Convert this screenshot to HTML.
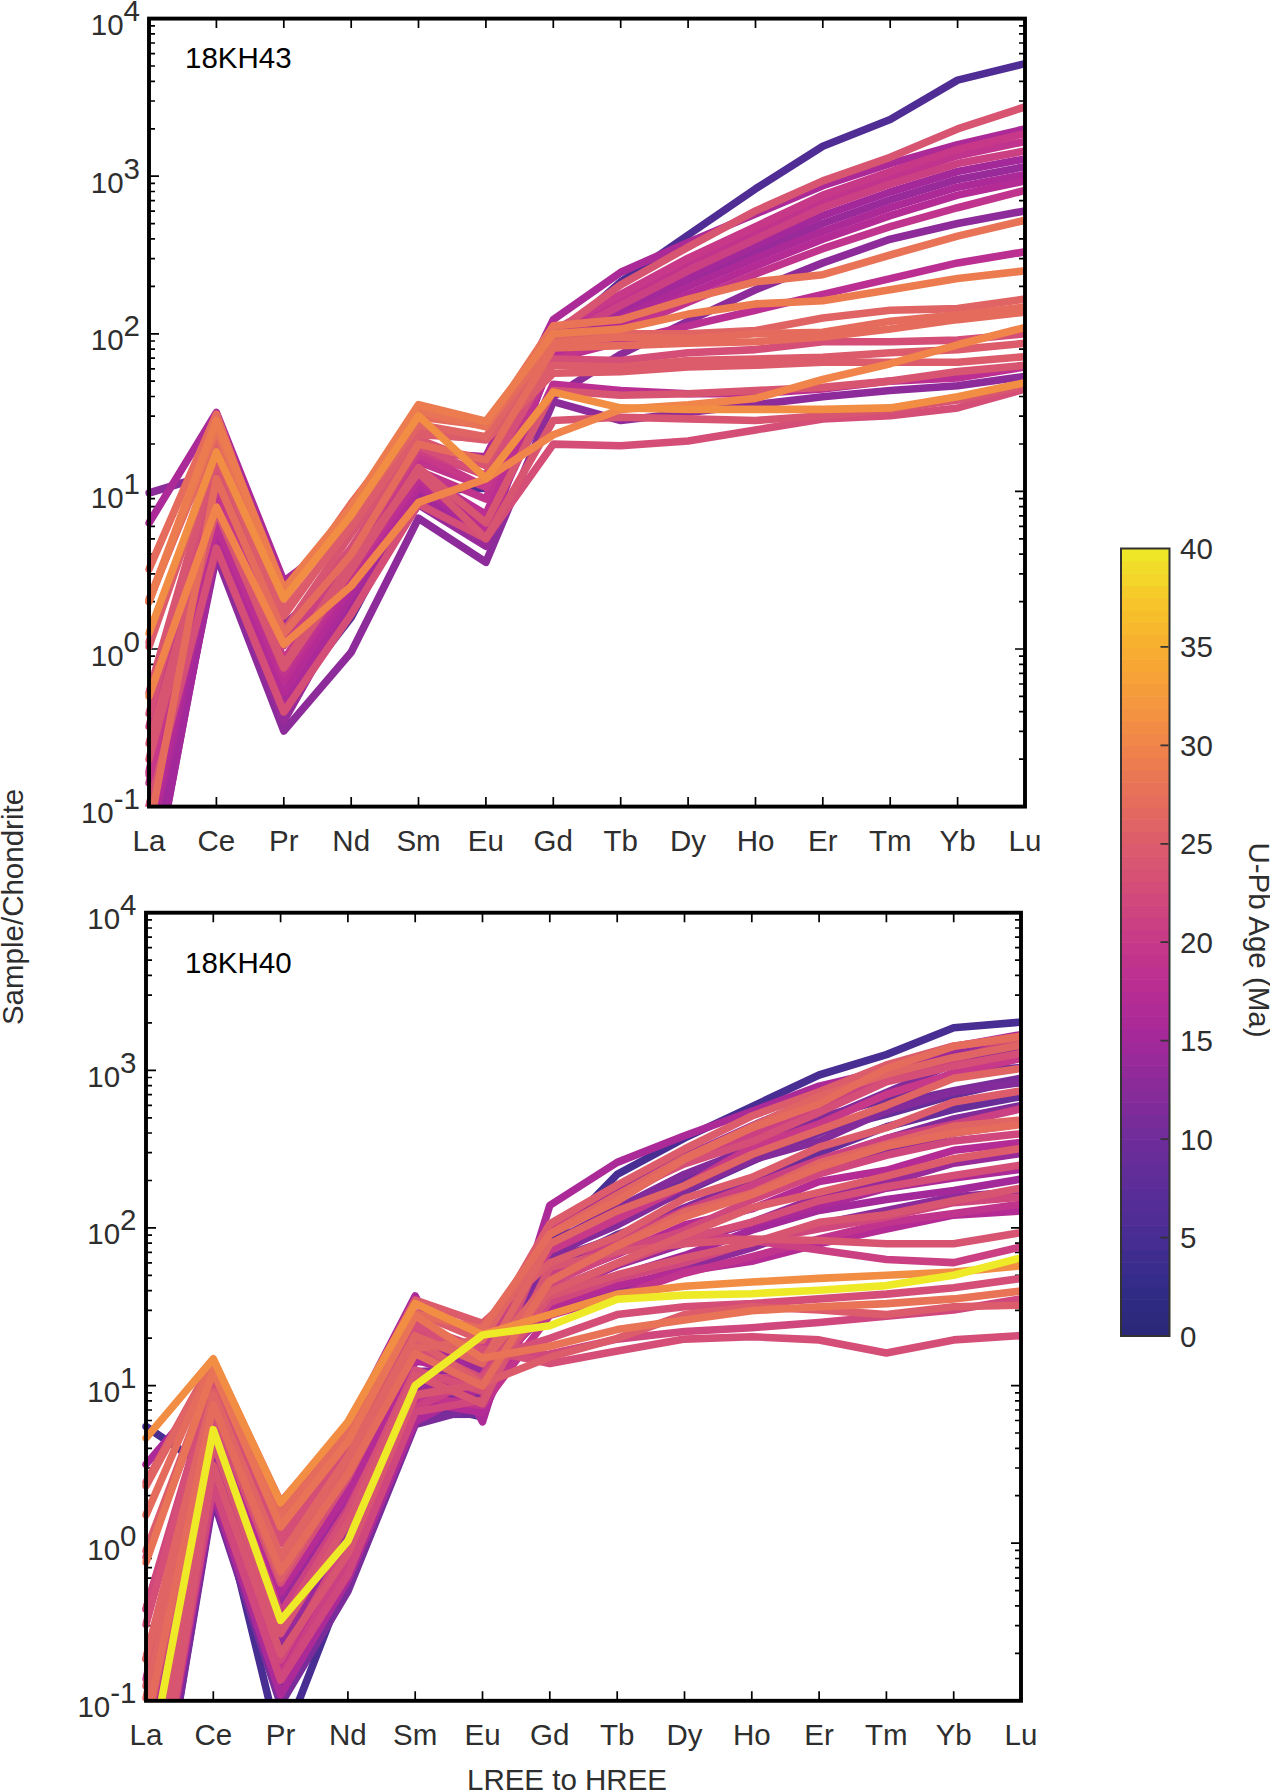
<!DOCTYPE html><html><head><meta charset="utf-8"><style>html,body{margin:0;padding:0;background:#fff;overflow:hidden;}svg{display:block;}text{font-family:"Liberation Sans",sans-serif;}</style></head><body>
<svg width="1270" height="1790" viewBox="0 0 1270 1790"><rect width="1270" height="1790" fill="#fff"/>
<path d="M149.0,18.6v9.5M149.0,806.6v-9.5M216.4,18.6v9.5M216.4,806.6v-9.5M283.8,18.6v9.5M283.8,806.6v-9.5M351.2,18.6v9.5M351.2,806.6v-9.5M418.5,18.6v9.5M418.5,806.6v-9.5M485.9,18.6v9.5M485.9,806.6v-9.5M553.3,18.6v9.5M553.3,806.6v-9.5M620.7,18.6v9.5M620.7,806.6v-9.5M688.1,18.6v9.5M688.1,806.6v-9.5M755.5,18.6v9.5M755.5,806.6v-9.5M822.8,18.6v9.5M822.8,806.6v-9.5M890.2,18.6v9.5M890.2,806.6v-9.5M957.6,18.6v9.5M957.6,806.6v-9.5M1025.0,18.6v9.5M1025.0,806.6v-9.5M149.0,806.6h10M1025.0,806.6h-10M149.0,759.2h6M1025.0,759.2h-6M149.0,731.4h6M1025.0,731.4h-6M149.0,711.7h6M1025.0,711.7h-6M149.0,696.4h6M1025.0,696.4h-6M149.0,684.0h6M1025.0,684.0h-6M149.0,673.4h6M1025.0,673.4h-6M149.0,664.3h6M1025.0,664.3h-6M149.0,656.2h6M1025.0,656.2h-6M149.0,649.0h10M1025.0,649.0h-10M149.0,601.6h6M1025.0,601.6h-6M149.0,573.8h6M1025.0,573.8h-6M149.0,554.1h6M1025.0,554.1h-6M149.0,538.8h6M1025.0,538.8h-6M149.0,526.4h6M1025.0,526.4h-6M149.0,515.8h6M1025.0,515.8h-6M149.0,506.7h6M1025.0,506.7h-6M149.0,498.6h6M1025.0,498.6h-6M149.0,491.4h10M1025.0,491.4h-10M149.0,444.0h6M1025.0,444.0h-6M149.0,416.2h6M1025.0,416.2h-6M149.0,396.5h6M1025.0,396.5h-6M149.0,381.2h6M1025.0,381.2h-6M149.0,368.8h6M1025.0,368.8h-6M149.0,358.2h6M1025.0,358.2h-6M149.0,349.1h6M1025.0,349.1h-6M149.0,341.0h6M1025.0,341.0h-6M149.0,333.8h10M1025.0,333.8h-10M149.0,286.4h6M1025.0,286.4h-6M149.0,258.6h6M1025.0,258.6h-6M149.0,238.9h6M1025.0,238.9h-6M149.0,223.6h6M1025.0,223.6h-6M149.0,211.2h6M1025.0,211.2h-6M149.0,200.6h6M1025.0,200.6h-6M149.0,191.5h6M1025.0,191.5h-6M149.0,183.4h6M1025.0,183.4h-6M149.0,176.2h10M1025.0,176.2h-10M149.0,128.8h6M1025.0,128.8h-6M149.0,101.0h6M1025.0,101.0h-6M149.0,81.3h6M1025.0,81.3h-6M149.0,66.0h6M1025.0,66.0h-6M149.0,53.6h6M1025.0,53.6h-6M149.0,43.0h6M1025.0,43.0h-6M149.0,33.9h6M1025.0,33.9h-6M149.0,25.8h6M1025.0,25.8h-6" stroke="#000" stroke-width="1.7" fill="none"/>
<path d="M146.0,912.7v9.5M146.0,1700.8v-9.5M213.3,912.7v9.5M213.3,1700.8v-9.5M280.6,912.7v9.5M280.6,1700.8v-9.5M347.9,912.7v9.5M347.9,1700.8v-9.5M415.2,912.7v9.5M415.2,1700.8v-9.5M482.5,912.7v9.5M482.5,1700.8v-9.5M549.8,912.7v9.5M549.8,1700.8v-9.5M617.2,912.7v9.5M617.2,1700.8v-9.5M684.5,912.7v9.5M684.5,1700.8v-9.5M751.8,912.7v9.5M751.8,1700.8v-9.5M819.1,912.7v9.5M819.1,1700.8v-9.5M886.4,912.7v9.5M886.4,1700.8v-9.5M953.7,912.7v9.5M953.7,1700.8v-9.5M1021.0,912.7v9.5M1021.0,1700.8v-9.5M146.0,1700.8h10M1021.0,1700.8h-10M146.0,1653.4h6M1021.0,1653.4h-6M146.0,1625.6h6M1021.0,1625.6h-6M146.0,1605.9h6M1021.0,1605.9h-6M146.0,1590.6h6M1021.0,1590.6h-6M146.0,1578.1h6M1021.0,1578.1h-6M146.0,1567.6h6M1021.0,1567.6h-6M146.0,1558.5h6M1021.0,1558.5h-6M146.0,1550.4h6M1021.0,1550.4h-6M146.0,1543.2h10M1021.0,1543.2h-10M146.0,1495.7h6M1021.0,1495.7h-6M146.0,1468.0h6M1021.0,1468.0h-6M146.0,1448.3h6M1021.0,1448.3h-6M146.0,1433.0h6M1021.0,1433.0h-6M146.0,1420.5h6M1021.0,1420.5h-6M146.0,1410.0h6M1021.0,1410.0h-6M146.0,1400.8h6M1021.0,1400.8h-6M146.0,1392.8h6M1021.0,1392.8h-6M146.0,1385.6h10M1021.0,1385.6h-10M146.0,1338.1h6M1021.0,1338.1h-6M146.0,1310.4h6M1021.0,1310.4h-6M146.0,1290.7h6M1021.0,1290.7h-6M146.0,1275.4h6M1021.0,1275.4h-6M146.0,1262.9h6M1021.0,1262.9h-6M146.0,1252.4h6M1021.0,1252.4h-6M146.0,1243.2h6M1021.0,1243.2h-6M146.0,1235.2h6M1021.0,1235.2h-6M146.0,1227.9h10M1021.0,1227.9h-10M146.0,1180.5h6M1021.0,1180.5h-6M146.0,1152.7h6M1021.0,1152.7h-6M146.0,1133.0h6M1021.0,1133.0h-6M146.0,1117.8h6M1021.0,1117.8h-6M146.0,1105.3h6M1021.0,1105.3h-6M146.0,1094.7h6M1021.0,1094.7h-6M146.0,1085.6h6M1021.0,1085.6h-6M146.0,1077.5h6M1021.0,1077.5h-6M146.0,1070.3h10M1021.0,1070.3h-10M146.0,1022.9h6M1021.0,1022.9h-6M146.0,995.1h6M1021.0,995.1h-6M146.0,975.4h6M1021.0,975.4h-6M146.0,960.1h6M1021.0,960.1h-6M146.0,947.7h6M1021.0,947.7h-6M146.0,937.1h6M1021.0,937.1h-6M146.0,928.0h6M1021.0,928.0h-6M146.0,919.9h6M1021.0,919.9h-6" stroke="#000" stroke-width="1.7" fill="none"/>
<clipPath id="ctop"><rect x="145.2" y="18.6" width="879.8" height="788.0"/></clipPath>
<g clip-path="url(#ctop)" fill="none" stroke-width="7.6" stroke-linejoin="round" stroke-linecap="round">
<polyline points="149.0,838.1 216.4,538.7 283.8,704.2 351.2,617.5 418.5,491.4 485.9,488.2 553.3,341.7 620.7,281.8 688.1,235.0 755.5,188.8 822.8,146.3 890.2,119.5 957.6,80.1 1025.0,63.7" stroke="#502d95"/>
<polyline points="149.0,493.0 216.4,472.5 283.8,625.4 351.2,562.3 418.5,475.6 485.9,515.0 553.3,396.8 620.7,354.3 688.1,321.2 755.5,289.7 822.8,262.9 890.2,239.2 957.6,223.5 1025.0,210.9" stroke="#8d2b9a"/>
<polyline points="149.0,885.4 216.4,556.0 283.8,731.0 351.2,652.2 418.5,518.2 485.9,562.3 553.3,401.6 620.7,420.5 688.1,412.6 755.5,404.7 822.8,396.8 890.2,390.5 957.6,385.8 1025.0,376.4" stroke="#8d2b9a"/>
<polyline points="149.0,906.8 216.4,544.7 283.8,721.2 351.2,601.1 418.5,504.7 485.9,546.2 553.3,349.6 620.7,314.9 688.1,281.8 755.5,251.8 822.8,223.5 890.2,199.8 957.6,179.4 1025.0,166.7" stroke="#982a9a"/>
<polyline points="149.0,902.7 216.4,549.4 283.8,706.3 351.2,598.2 418.5,494.9 485.9,537.6 553.3,344.8 620.7,310.2 688.1,277.1 755.5,245.5 822.8,215.6 890.2,192.0 957.6,171.5 1025.0,158.9" stroke="#a3299a"/>
<polyline points="149.0,522.9 216.4,412.6 283.8,581.2 351.2,530.8 418.5,452.0 485.9,456.7 553.3,319.6 620.7,272.3 688.1,242.4 755.5,214.0 822.8,185.7 890.2,163.6 957.6,144.7 1025.0,128.9" stroke="#ab2a98"/>
<polyline points="149.0,851.7 216.4,539.2 283.8,706.5 351.2,594.5 418.5,485.5 485.9,536.3 553.3,352.7 620.7,318.0 688.1,286.5 755.5,258.2 822.8,231.4 890.2,207.7 957.6,187.2 1025.0,174.6" stroke="#ab2a98"/>
<polyline points="149.0,840.0 216.4,526.7 283.8,692.8 351.2,585.4 418.5,487.0 485.9,523.8 553.3,357.4 620.7,324.3 688.1,294.4 755.5,266.0 822.8,239.2 890.2,215.6 957.6,195.1 1025.0,180.9" stroke="#b42b95"/>
<polyline points="149.0,814.3 216.4,519.7 283.8,679.4 351.2,571.1 418.5,473.7 485.9,514.4 553.3,359.0 620.7,341.7 688.1,325.9 755.5,310.2 822.8,294.4 890.2,278.6 957.6,262.9 1025.0,251.8" stroke="#bb2f92"/>
<polyline points="149.0,806.6 216.4,522.9 283.8,680.5 351.2,578.1 418.5,478.8 485.9,529.2 553.3,384.2 620.7,390.5 688.1,393.7 755.5,393.7 822.8,389.0 890.2,381.1 957.6,377.9 1025.0,366.9" stroke="#bb2f92"/>
<polyline points="149.0,782.8 216.4,505.5 283.8,673.1 351.2,574.4 418.5,470.8 485.9,499.1 553.3,333.8 620.7,299.1 688.1,262.9 755.5,232.9 822.8,201.4 890.2,177.8 957.6,155.7 1025.0,141.5" stroke="#c1348d"/>
<polyline points="149.0,771.1 216.4,489.5 283.8,663.6 351.2,557.6 418.5,461.7 485.9,487.1 553.3,362.2 620.7,330.6 688.1,302.3 755.5,273.9 822.8,248.7 890.2,226.6 957.6,207.7 1025.0,190.4" stroke="#c1348d"/>
<polyline points="149.0,774.5 216.4,481.4 283.8,659.9 351.2,559.4 418.5,453.6 485.9,487.2 553.3,330.6 620.7,294.4 688.1,258.2 755.5,226.6 822.8,195.1 890.2,171.5 957.6,149.4 1025.0,133.6" stroke="#c73988"/>
<polyline points="149.0,726.7 216.4,473.6 283.8,645.7 351.2,554.5 418.5,450.3 485.9,475.3 553.3,341.7 620.7,305.4 688.1,270.8 755.5,239.2 822.8,207.7 890.2,184.1 957.6,163.6 1025.0,151.0" stroke="#cb4082"/>
<polyline points="149.0,713.9 216.4,464.0 283.8,634.2 351.2,547.8 418.5,445.8 485.9,475.9 553.3,359.0 620.7,360.6 688.1,352.7 755.5,349.6 822.8,341.7 890.2,341.7 957.6,340.1 1025.0,333.8" stroke="#d44e77"/>
<polyline points="149.0,806.6 216.4,548.1 283.8,712.0 351.2,614.3 418.5,504.0 485.9,538.7 553.3,444.1 620.7,445.7 688.1,441.0 755.5,429.9 822.8,418.9 890.2,415.8 957.6,407.9 1025.0,389.0" stroke="#d44e77"/>
<polyline points="149.0,692.9 216.4,458.3 283.8,631.5 351.2,533.8 418.5,439.4 485.9,465.8 553.3,333.8 620.7,284.9 688.1,247.1 755.5,210.9 822.8,180.9 890.2,157.3 957.6,128.9 1025.0,106.9" stroke="#d85571"/>
<polyline points="149.0,743.6 216.4,507.2 283.8,664.8 351.2,562.3 418.5,472.5 485.9,538.7 553.3,420.5 620.7,417.3 688.1,418.9 755.5,420.5 822.8,415.8 890.2,409.4 957.6,400.0 1025.0,385.8" stroke="#d85571"/>
<polyline points="149.0,759.3 216.4,510.3 283.8,667.9 351.2,570.2 418.5,467.8 485.9,522.9 553.3,390.5 620.7,395.3 688.1,393.7 755.5,390.5 822.8,387.4 890.2,381.1 957.6,371.6 1025.0,365.3" stroke="#d85571"/>
<polyline points="149.0,646.6 216.4,452.4 283.8,616.1 351.2,522.0 418.5,434.6 485.9,438.5 553.3,365.3 620.7,366.9 688.1,360.6 755.5,359.0 822.8,357.4 890.2,352.7 957.6,349.6 1025.0,343.3" stroke="#dc5c6b"/>
<polyline points="149.0,642.2 216.4,447.2 283.8,610.6 351.2,527.0 418.5,432.2 485.9,440.0 553.3,373.2 620.7,371.6 688.1,366.9 755.5,365.3 822.8,362.2 890.2,362.2 957.6,362.2 1025.0,356.7" stroke="#dc5c6b"/>
<polyline points="149.0,599.5 216.4,435.8 283.8,598.7 351.2,513.2 418.5,424.8 485.9,436.8 553.3,340.1 620.7,333.8 688.1,333.8 755.5,330.6 822.8,318.0 890.2,310.2 957.6,308.6 1025.0,299.1" stroke="#e06464"/>
<polyline points="149.0,569.2 216.4,414.3 283.8,599.0 351.2,503.4 418.5,416.9 485.9,425.5 553.3,343.3 620.7,337.0 688.1,338.5 755.5,333.8 822.8,332.2 890.2,321.2 957.6,314.9 1025.0,307.0" stroke="#e56b5d"/>
<polyline points="149.0,830.2 216.4,478.8 283.8,633.2 351.2,554.4 418.5,444.1 485.9,459.9 553.3,348.0 620.7,345.6 688.1,343.3 755.5,341.7 822.8,337.0 890.2,329.1 957.6,319.6 1025.0,312.2" stroke="#e56b5d"/>
<polyline points="149.0,601.7 216.4,428.4 283.8,593.8 351.2,515.0 418.5,411.0 485.9,426.8 553.3,325.9 620.7,319.6 688.1,299.1 755.5,281.8 822.8,274.7 890.2,255.0 957.6,236.1 1025.0,220.3" stroke="#e97357"/>
<polyline points="149.0,601.7 216.4,420.5 283.8,589.1 351.2,507.2 418.5,404.7 485.9,421.3 553.3,333.8 620.7,329.1 688.1,314.1 755.5,303.9 822.8,300.7 890.2,289.7 957.6,278.6 1025.0,270.8" stroke="#ec7c50"/>
<polyline points="149.0,696.3 216.4,507.2 283.8,644.3 351.2,586.0 418.5,502.4 485.9,478.8 553.3,434.7 620.7,409.4 688.1,404.7 755.5,398.4 822.8,379.5 890.2,363.7 957.6,344.8 1025.0,327.5" stroke="#f0844a"/>
<polyline points="149.0,633.2 216.4,452.0 283.8,598.6 351.2,515.0 418.5,415.8 485.9,478.3 553.3,392.1 620.7,407.9 688.1,409.4 755.5,409.4 822.8,409.4 890.2,407.9 957.6,396.8 1025.0,382.7" stroke="#f28d44"/>
</g>
<clipPath id="cbot"><rect x="142.2" y="912.7" width="878.8" height="788.1"/></clipPath>
<g clip-path="url(#cbot)" fill="none" stroke-width="7.6" stroke-linejoin="round" stroke-linecap="round">
<polyline points="146.0,1426.5 213.3,1472.3 280.6,1748.1 347.9,1574.7 415.2,1401.3 482.5,1417.1 549.8,1243.7 617.2,1174.3 684.5,1138.1 751.8,1106.6 819.1,1075.0 886.4,1054.6 953.7,1027.8 1021.0,1022.1" stroke="#482d93"/>
<polyline points="146.0,1865.5 213.3,1463.8 280.6,1646.7 347.9,1539.6 415.2,1390.1 482.5,1372.3 549.8,1258.1 617.2,1219.5 684.5,1191.8 751.8,1161.2 819.1,1131.5 886.4,1114.3 953.7,1095.1 1021.0,1079.9" stroke="#672d99"/>
<polyline points="146.0,1901.5 213.3,1496.1 280.6,1690.7 347.9,1584.5 415.2,1422.6 482.5,1388.4 549.8,1267.9 617.2,1234.7 684.5,1211.2 751.8,1181.8 819.1,1152.9 886.4,1126.8 953.7,1109.2 1021.0,1096.7" stroke="#672d99"/>
<polyline points="146.0,1881.3 213.3,1494.2 280.6,1685.7 347.9,1582.3 415.2,1414.4 482.5,1414.2 549.8,1253.5 617.2,1217.5 684.5,1180.2 751.8,1143.9 819.1,1117.7 886.4,1099.2 953.7,1072.7 1021.0,1067.6" stroke="#6f2d9a"/>
<polyline points="146.0,1901.1 213.3,1499.8 280.6,1704.4 347.9,1591.3 415.2,1424.6 482.5,1406.1 549.8,1257.1 617.2,1222.2 684.5,1188.8 751.8,1160.3 819.1,1133.1 886.4,1105.4 953.7,1090.7 1021.0,1078.3" stroke="#792c9a"/>
<polyline points="146.0,1874.4 213.3,1479.4 280.6,1669.3 347.9,1554.1 415.2,1397.5 482.5,1396.8 549.8,1243.5 617.2,1208.2 684.5,1174.2 751.8,1148.1 819.1,1121.0 886.4,1092.4 953.7,1063.6 1021.0,1051.9" stroke="#832b9a"/>
<polyline points="146.0,1748.6 213.3,1415.6 280.6,1596.4 347.9,1490.6 415.2,1353.6 482.5,1351.3 549.8,1253.9 617.2,1225.2 684.5,1190.0 751.8,1160.0 819.1,1141.1 886.4,1110.8 953.7,1091.8 1021.0,1082.4" stroke="#832b9a"/>
<polyline points="146.0,1842.1 213.3,1449.2 280.6,1643.0 347.9,1534.7 415.2,1382.2 482.5,1408.4 549.8,1260.9 617.2,1237.1 684.5,1207.7 751.8,1180.7 819.1,1160.9 886.4,1138.7 953.7,1118.9 1021.0,1105.6" stroke="#832b9a"/>
<polyline points="146.0,1803.8 213.3,1430.3 280.6,1607.9 347.9,1506.2 415.2,1371.0 482.5,1390.3 549.8,1268.2 617.2,1242.0 684.5,1215.6 751.8,1190.8 819.1,1170.6 886.4,1151.1 953.7,1133.0 1021.0,1123.7" stroke="#832b9a"/>
<polyline points="146.0,1791.7 213.3,1438.0 280.6,1607.5 347.9,1509.0 415.2,1371.5 482.5,1369.6 549.8,1312.0 617.2,1289.6 684.5,1267.7 751.8,1247.9 819.1,1224.1 886.4,1210.4 953.7,1196.8 1021.0,1191.5" stroke="#8d2b9a"/>
<polyline points="146.0,1845.5 213.3,1457.7 280.6,1639.5 347.9,1536.5 415.2,1387.6 482.5,1378.2 549.8,1228.4 617.2,1188.2 684.5,1156.8 751.8,1125.9 819.1,1097.4 886.4,1075.8 953.7,1051.1 1021.0,1043.6" stroke="#982a9a"/>
<polyline points="146.0,1794.0 213.3,1422.4 280.6,1599.3 347.9,1499.8 415.2,1358.9 482.5,1367.6 549.8,1295.0 617.2,1265.4 684.5,1243.3 751.8,1222.4 819.1,1196.8 886.4,1182.9 953.7,1163.2 1021.0,1153.5" stroke="#982a9a"/>
<polyline points="146.0,1750.2 213.3,1421.2 280.6,1594.7 347.9,1494.5 415.2,1361.7 482.5,1361.5 549.8,1300.2 617.2,1276.2 684.5,1255.5 751.8,1230.1 819.1,1210.4 886.4,1199.6 953.7,1190.5 1021.0,1179.1" stroke="#a3299a"/>
<polyline points="146.0,1464.4 213.3,1385.6 280.6,1516.4 347.9,1426.5 415.2,1296.0 482.5,1421.8 549.8,1205.4 617.2,1162.4 684.5,1135.7 751.8,1111.3 819.1,1086.1 886.4,1070.3 953.7,1046.7 1021.0,1034.7" stroke="#ab2a98"/>
<polyline points="146.0,1873.3 213.3,1493.4 280.6,1695.1 347.9,1580.0 415.2,1421.7 482.5,1387.1 549.8,1290.7 617.2,1263.5 684.5,1238.2 751.8,1223.7 819.1,1206.3 886.4,1188.2 953.7,1177.9 1021.0,1169.3" stroke="#ab2a98"/>
<polyline points="146.0,1879.9 213.3,1477.0 280.6,1679.6 347.9,1560.2 415.2,1401.2 482.5,1412.5 549.8,1280.9 617.2,1254.2 684.5,1225.0 751.8,1208.9 819.1,1181.6 886.4,1170.3 953.7,1150.3 1021.0,1142.6" stroke="#b42b95"/>
<polyline points="146.0,1744.4 213.3,1422.1 280.6,1591.8 347.9,1492.0 415.2,1359.5 482.5,1380.5 549.8,1306.7 617.2,1285.5 684.5,1271.2 751.8,1261.3 819.1,1243.9 886.4,1229.1 953.7,1215.1 1021.0,1211.0" stroke="#b42b95"/>
<polyline points="146.0,1859.1 213.3,1465.0 280.6,1669.4 347.9,1553.0 415.2,1396.5 482.5,1405.5 549.8,1315.3 617.2,1296.1 684.5,1273.2 751.8,1256.7 819.1,1239.0 886.4,1222.6 953.7,1213.4 1021.0,1204.1" stroke="#c1348d"/>
<polyline points="146.0,1678.9 213.3,1402.1 280.6,1561.4 347.9,1461.8 415.2,1344.1 482.5,1347.0 549.8,1250.7 617.2,1219.0 684.5,1185.8 751.8,1147.3 819.1,1124.1 886.4,1094.5 953.7,1073.6 1021.0,1058.5" stroke="#c73988"/>
<polyline points="146.0,1609.4 213.3,1391.0 280.6,1543.3 347.9,1448.1 415.2,1330.2 482.5,1351.7 549.8,1228.7 617.2,1199.1 684.5,1161.7 751.8,1135.5 819.1,1105.9 886.4,1079.7 953.7,1059.7 1021.0,1040.1" stroke="#cb4082"/>
<polyline points="146.0,1817.3 213.3,1436.0 280.6,1613.0 347.9,1508.6 415.2,1377.3 482.5,1378.5 549.8,1276.2 617.2,1240.8 684.5,1210.2 751.8,1185.6 819.1,1159.9 886.4,1138.5 953.7,1124.1 1021.0,1108.8" stroke="#cb4082"/>
<polyline points="146.0,1865.3 213.3,1481.3 280.6,1678.4 347.9,1560.4 415.2,1407.7 482.5,1375.7 549.8,1275.2 617.2,1246.9 684.5,1232.7 751.8,1240.5 819.1,1250.0 886.4,1259.5 953.7,1262.6 1021.0,1246.9" stroke="#cb4082"/>
<polyline points="146.0,1866.4 213.3,1486.1 280.6,1680.2 347.9,1574.8 415.2,1411.9 482.5,1400.0 549.8,1283.6 617.2,1253.0 684.5,1230.5 751.8,1199.9 819.1,1173.9 886.4,1155.3 953.7,1140.9 1021.0,1133.7" stroke="#d0477d"/>
<polyline points="146.0,1861.4 213.3,1467.0 280.6,1659.8 347.9,1542.6 415.2,1394.7 482.5,1382.8 549.8,1302.5 617.2,1278.5 684.5,1262.8 751.8,1241.9 819.1,1228.8 886.4,1217.1 953.7,1202.6 1021.0,1197.1" stroke="#d0477d"/>
<polyline points="146.0,1608.8 213.3,1383.2 280.6,1543.5 347.9,1452.3 415.2,1321.3 482.5,1357.0 549.8,1354.0 617.2,1339.1 684.5,1331.5 751.8,1327.7 819.1,1322.5 886.4,1316.2 953.7,1309.9 1021.0,1298.9" stroke="#d0477d"/>
<polyline points="146.0,1831.5 213.3,1441.4 280.6,1624.3 347.9,1513.0 415.2,1370.2 482.5,1391.4 549.8,1233.6 617.2,1195.0 684.5,1163.8 751.8,1141.9 819.1,1112.6 886.4,1081.9 953.7,1066.1 1021.0,1053.2" stroke="#d44e77"/>
<polyline points="146.0,1731.6 213.3,1411.5 280.6,1582.9 347.9,1478.1 415.2,1347.6 482.5,1378.4 549.8,1294.2 617.2,1263.8 684.5,1239.6 751.8,1222.2 819.1,1200.7 886.4,1186.7 953.7,1175.6 1021.0,1165.0" stroke="#d44e77"/>
<polyline points="146.0,1624.5 213.3,1378.0 280.6,1543.7 347.9,1450.8 415.2,1326.2 482.5,1359.8 549.8,1338.3 617.2,1314.6 684.5,1306.8 751.8,1303.6 819.1,1298.9 886.4,1294.1 953.7,1287.8 1021.0,1278.4" stroke="#d44e77"/>
<polyline points="146.0,1557.2 213.3,1377.3 280.6,1533.0 347.9,1435.1 415.2,1324.7 482.5,1349.0 549.8,1363.5 617.2,1350.9 684.5,1339.1 751.8,1336.7 819.1,1339.9 886.4,1352.9 953.7,1339.9 1021.0,1335.6" stroke="#d44e77"/>
<polyline points="146.0,1874.8 213.3,1465.7 280.6,1653.8 347.9,1553.9 415.2,1395.3 482.5,1384.1 549.8,1295.8 617.2,1274.8 684.5,1257.9 751.8,1243.1 819.1,1222.3 886.4,1214.8 953.7,1200.8 1021.0,1188.1" stroke="#d85571"/>
<polyline points="146.0,1818.4 213.3,1441.6 280.6,1633.6 347.9,1523.0 415.2,1375.2 482.5,1403.7 549.8,1267.3 617.2,1251.6 684.5,1243.7 751.8,1239.0 819.1,1240.5 886.4,1243.7 953.7,1243.7 1021.0,1232.7" stroke="#d85571"/>
<polyline points="146.0,1550.9 213.3,1372.6 280.6,1522.3 347.9,1437.2 415.2,1312.6 482.5,1340.2 549.8,1223.8 617.2,1185.1 684.5,1149.0 751.8,1116.0 819.1,1091.7 886.4,1065.0 953.7,1046.0 1021.0,1037.7" stroke="#dc5c6b"/>
<polyline points="146.0,1482.3 213.3,1360.5 280.6,1502.2 347.9,1425.4 415.2,1300.2 482.5,1323.3 549.8,1263.0 617.2,1236.5 684.5,1198.4 751.8,1177.4 819.1,1147.1 886.4,1127.7 953.7,1102.0 1021.0,1090.9" stroke="#dc5c6b"/>
<polyline points="146.0,1658.5 213.3,1391.5 280.6,1559.0 347.9,1469.0 415.2,1340.7 482.5,1357.9 549.8,1291.7 617.2,1262.9 684.5,1235.0 751.8,1207.8 819.1,1192.4 886.4,1176.1 953.7,1158.8 1021.0,1148.5" stroke="#dc5c6b"/>
<polyline points="146.0,1686.0 213.3,1402.4 280.6,1578.6 347.9,1469.4 415.2,1339.9 482.5,1383.8 549.8,1357.2 617.2,1338.3 684.5,1314.6 751.8,1306.8 819.1,1309.9 886.4,1314.6 953.7,1306.8 1021.0,1305.2" stroke="#dc5c6b"/>
<polyline points="146.0,1698.1 213.3,1401.4 280.6,1567.8 347.9,1471.1 415.2,1348.4 482.5,1339.7 549.8,1234.3 617.2,1195.0 684.5,1157.9 751.8,1126.7 819.1,1096.5 886.4,1074.3 953.7,1057.4 1021.0,1045.1" stroke="#e06464"/>
<polyline points="146.0,1659.0 213.3,1394.8 280.6,1556.2 347.9,1456.9 415.2,1335.7 482.5,1363.7 549.8,1243.9 617.2,1210.9 684.5,1185.8 751.8,1154.5 819.1,1130.1 886.4,1105.6 953.7,1078.3 1021.0,1068.5" stroke="#e06464"/>
<polyline points="146.0,1486.0 213.3,1361.8 280.6,1510.2 347.9,1430.2 415.2,1314.9 482.5,1362.0 549.8,1280.8 617.2,1245.3 684.5,1212.0 751.8,1193.1 819.1,1163.0 886.4,1144.1 953.7,1126.2 1021.0,1120.1" stroke="#e06464"/>
<polyline points="146.0,1514.9 213.3,1361.1 280.6,1516.8 347.9,1432.6 415.2,1314.0 482.5,1328.7 549.8,1234.0 617.2,1201.0 684.5,1159.2 751.8,1127.8 819.1,1104.0 886.4,1068.5 953.7,1046.3 1021.0,1036.2" stroke="#e56b5d"/>
<polyline points="146.0,1726.0 213.3,1404.8 280.6,1571.7 347.9,1474.7 415.2,1353.6 482.5,1386.0 549.8,1281.2 617.2,1245.9 684.5,1217.0 751.8,1194.7 819.1,1167.4 886.4,1146.3 953.7,1133.0 1021.0,1124.5" stroke="#e56b5d"/>
<polyline points="146.0,1562.2 213.3,1370.8 280.6,1526.9 347.9,1441.7 415.2,1315.7 482.5,1358.1 549.8,1346.2 617.2,1329.6 684.5,1320.1 751.8,1310.7 819.1,1306.8 886.4,1303.6 953.7,1298.9 1021.0,1291.0" stroke="#e97357"/>
<polyline points="146.0,1438.1 213.3,1358.8 280.6,1502.9 347.9,1421.9 415.2,1303.5 482.5,1334.7 549.8,1314.6 617.2,1294.1 684.5,1286.3 751.8,1282.0 819.1,1278.4 886.4,1275.2 953.7,1272.1 1021.0,1265.8" stroke="#f28d44"/>
<polyline points="146.0,1781.2 213.3,1429.7 280.6,1620.4 347.9,1541.0 415.2,1385.6 482.5,1335.1 549.8,1325.7 617.2,1299.3 684.5,1295.1 751.8,1293.7 819.1,1290.2 886.4,1285.6 953.7,1275.2 1021.0,1257.9" stroke="#eeea28"/>
</g>
<g font-size="29.5" fill="#2e2e2e">
<rect x="149.0" y="18.6" width="876.0" height="788.0" fill="none" stroke="#000" stroke-width="3.9"/>
<text x="149.0" y="851.1" text-anchor="middle">La</text>
<text x="216.4" y="851.1" text-anchor="middle">Ce</text>
<text x="283.8" y="851.1" text-anchor="middle">Pr</text>
<text x="351.2" y="851.1" text-anchor="middle">Nd</text>
<text x="418.5" y="851.1" text-anchor="middle">Sm</text>
<text x="485.9" y="851.1" text-anchor="middle">Eu</text>
<text x="553.3" y="851.1" text-anchor="middle">Gd</text>
<text x="620.7" y="851.1" text-anchor="middle">Tb</text>
<text x="688.1" y="851.1" text-anchor="middle">Dy</text>
<text x="755.5" y="851.1" text-anchor="middle">Ho</text>
<text x="822.8" y="851.1" text-anchor="middle">Er</text>
<text x="890.2" y="851.1" text-anchor="middle">Tm</text>
<text x="957.6" y="851.1" text-anchor="middle">Yb</text>
<text x="1025.0" y="851.1" text-anchor="middle">Lu</text>
<text x="140.0" y="823.1" text-anchor="end">10<tspan dy="-14">-1</tspan></text>
<text x="140.0" y="665.5" text-anchor="end">10<tspan dy="-14">0</tspan></text>
<text x="140.0" y="507.9" text-anchor="end">10<tspan dy="-14">1</tspan></text>
<text x="140.0" y="350.3" text-anchor="end">10<tspan dy="-14">2</tspan></text>
<text x="140.0" y="192.7" text-anchor="end">10<tspan dy="-14">3</tspan></text>
<text x="140.0" y="35.1" text-anchor="end">10<tspan dy="-14">4</tspan></text>
<rect x="146.0" y="912.7" width="875.0" height="788.1" fill="none" stroke="#000" stroke-width="3.9"/>
<text x="146.0" y="1745.3" text-anchor="middle">La</text>
<text x="213.3" y="1745.3" text-anchor="middle">Ce</text>
<text x="280.6" y="1745.3" text-anchor="middle">Pr</text>
<text x="347.9" y="1745.3" text-anchor="middle">Nd</text>
<text x="415.2" y="1745.3" text-anchor="middle">Sm</text>
<text x="482.5" y="1745.3" text-anchor="middle">Eu</text>
<text x="549.8" y="1745.3" text-anchor="middle">Gd</text>
<text x="617.2" y="1745.3" text-anchor="middle">Tb</text>
<text x="684.5" y="1745.3" text-anchor="middle">Dy</text>
<text x="751.8" y="1745.3" text-anchor="middle">Ho</text>
<text x="819.1" y="1745.3" text-anchor="middle">Er</text>
<text x="886.4" y="1745.3" text-anchor="middle">Tm</text>
<text x="953.7" y="1745.3" text-anchor="middle">Yb</text>
<text x="1021.0" y="1745.3" text-anchor="middle">Lu</text>
<text x="136.5" y="1717.3" text-anchor="end">10<tspan dy="-14">-1</tspan></text>
<text x="136.5" y="1559.7" text-anchor="end">10<tspan dy="-14">0</tspan></text>
<text x="136.5" y="1402.1" text-anchor="end">10<tspan dy="-14">1</tspan></text>
<text x="136.5" y="1244.4" text-anchor="end">10<tspan dy="-14">2</tspan></text>
<text x="136.5" y="1086.8" text-anchor="end">10<tspan dy="-14">3</tspan></text>
<text x="136.5" y="929.2" text-anchor="end">10<tspan dy="-14">4</tspan></text>
</g>
<text x="185" y="68" font-size="29.5" fill="#000">18KH43</text>
<text x="185" y="972.5" font-size="29.5" fill="#000">18KH40</text>
<text transform="translate(22.5,907) rotate(-90)" text-anchor="middle" font-size="29.5" fill="#2e2e2e">Sample/Chondrite</text>
<text x="567" y="1790" text-anchor="middle" font-size="29.5" fill="#2e2e2e">LREE to HREE</text>
<rect x="1121.0" y="1323.70" width="48.5" height="12.90" fill="#2b2879"/>
<rect x="1121.0" y="1311.39" width="48.5" height="12.90" fill="#2d2a7d"/>
<rect x="1121.0" y="1299.09" width="48.5" height="12.90" fill="#2e2a81"/>
<rect x="1121.0" y="1286.78" width="48.5" height="12.90" fill="#302c85"/>
<rect x="1121.0" y="1274.48" width="48.5" height="12.90" fill="#342c88"/>
<rect x="1121.0" y="1262.17" width="48.5" height="12.90" fill="#3a2c8c"/>
<rect x="1121.0" y="1249.87" width="48.5" height="12.90" fill="#3f2d8e"/>
<rect x="1121.0" y="1237.56" width="48.5" height="12.90" fill="#452d92"/>
<rect x="1121.0" y="1225.26" width="48.5" height="12.90" fill="#4a2d94"/>
<rect x="1121.0" y="1212.95" width="48.5" height="12.90" fill="#4f2d95"/>
<rect x="1121.0" y="1200.65" width="48.5" height="12.90" fill="#542d96"/>
<rect x="1121.0" y="1188.34" width="48.5" height="12.90" fill="#592d97"/>
<rect x="1121.0" y="1176.04" width="48.5" height="12.90" fill="#5e2d98"/>
<rect x="1121.0" y="1163.73" width="48.5" height="12.90" fill="#622d99"/>
<rect x="1121.0" y="1151.43" width="48.5" height="12.90" fill="#682d99"/>
<rect x="1121.0" y="1139.12" width="48.5" height="12.90" fill="#6c2d9a"/>
<rect x="1121.0" y="1126.82" width="48.5" height="12.90" fill="#722d9a"/>
<rect x="1121.0" y="1114.52" width="48.5" height="12.90" fill="#782c9a"/>
<rect x="1121.0" y="1102.21" width="48.5" height="12.90" fill="#7f2c9a"/>
<rect x="1121.0" y="1089.91" width="48.5" height="12.90" fill="#852b9a"/>
<rect x="1121.0" y="1077.60" width="48.5" height="12.90" fill="#8b2b9a"/>
<rect x="1121.0" y="1065.30" width="48.5" height="12.90" fill="#922a9a"/>
<rect x="1121.0" y="1052.99" width="48.5" height="12.90" fill="#992a9a"/>
<rect x="1121.0" y="1040.69" width="48.5" height="12.90" fill="#a0299a"/>
<rect x="1121.0" y="1028.38" width="48.5" height="12.90" fill="#a62999"/>
<rect x="1121.0" y="1016.08" width="48.5" height="12.90" fill="#ab2a98"/>
<rect x="1121.0" y="1003.77" width="48.5" height="12.90" fill="#b02b96"/>
<rect x="1121.0" y="991.47" width="48.5" height="12.90" fill="#b52c95"/>
<rect x="1121.0" y="979.16" width="48.5" height="12.90" fill="#ba2e92"/>
<rect x="1121.0" y="966.86" width="48.5" height="12.90" fill="#be3190"/>
<rect x="1121.0" y="954.55" width="48.5" height="12.90" fill="#c1348c"/>
<rect x="1121.0" y="942.25" width="48.5" height="12.90" fill="#c5378a"/>
<rect x="1121.0" y="929.95" width="48.5" height="12.90" fill="#c83b86"/>
<rect x="1121.0" y="917.64" width="48.5" height="12.90" fill="#cb4083"/>
<rect x="1121.0" y="905.34" width="48.5" height="12.90" fill="#ce447f"/>
<rect x="1121.0" y="893.03" width="48.5" height="12.90" fill="#d1497c"/>
<rect x="1121.0" y="880.73" width="48.5" height="12.90" fill="#d34d78"/>
<rect x="1121.0" y="868.42" width="48.5" height="12.90" fill="#d65174"/>
<rect x="1121.0" y="856.12" width="48.5" height="12.90" fill="#d85671"/>
<rect x="1121.0" y="843.81" width="48.5" height="12.90" fill="#db5a6d"/>
<rect x="1121.0" y="831.51" width="48.5" height="12.90" fill="#dd5e69"/>
<rect x="1121.0" y="819.20" width="48.5" height="12.90" fill="#e06365"/>
<rect x="1121.0" y="806.90" width="48.5" height="12.90" fill="#e36860"/>
<rect x="1121.0" y="794.59" width="48.5" height="12.90" fill="#e66d5c"/>
<rect x="1121.0" y="782.29" width="48.5" height="12.90" fill="#e87258"/>
<rect x="1121.0" y="769.98" width="48.5" height="12.90" fill="#ea7754"/>
<rect x="1121.0" y="757.68" width="48.5" height="12.90" fill="#ed7c50"/>
<rect x="1121.0" y="745.38" width="48.5" height="12.90" fill="#ef814c"/>
<rect x="1121.0" y="733.07" width="48.5" height="12.90" fill="#f18748"/>
<rect x="1121.0" y="720.77" width="48.5" height="12.90" fill="#f28c45"/>
<rect x="1121.0" y="708.46" width="48.5" height="12.90" fill="#f39241"/>
<rect x="1121.0" y="696.16" width="48.5" height="12.90" fill="#f4973e"/>
<rect x="1121.0" y="683.85" width="48.5" height="12.90" fill="#f59c3a"/>
<rect x="1121.0" y="671.55" width="48.5" height="12.90" fill="#f6a238"/>
<rect x="1121.0" y="659.24" width="48.5" height="12.90" fill="#f7a634"/>
<rect x="1121.0" y="646.94" width="48.5" height="12.90" fill="#f8ac32"/>
<rect x="1121.0" y="634.63" width="48.5" height="12.90" fill="#f8b12f"/>
<rect x="1121.0" y="622.33" width="48.5" height="12.90" fill="#f8b82e"/>
<rect x="1121.0" y="610.02" width="48.5" height="12.90" fill="#f7be2c"/>
<rect x="1121.0" y="597.72" width="48.5" height="12.90" fill="#f7c52b"/>
<rect x="1121.0" y="585.41" width="48.5" height="12.90" fill="#f6cc2a"/>
<rect x="1121.0" y="573.11" width="48.5" height="12.90" fill="#f4d529"/>
<rect x="1121.0" y="560.80" width="48.5" height="12.90" fill="#f1dd29"/>
<rect x="1121.0" y="548.50" width="48.5" height="12.90" fill="#efe628"/>
<rect x="1121.0" y="548.5" width="48.5" height="787.5" fill="none" stroke="#333" stroke-width="2"/>
<path d="M1168.5,1237.6h-8M1168.5,1139.1h-8M1168.5,1040.7h-8M1168.5,942.2h-8M1168.5,843.8h-8M1168.5,745.4h-8M1168.5,646.9h-8" stroke="#333" stroke-width="1.7"/>
<text x="1180" y="1346.5" font-size="29.5" fill="#2e2e2e">0</text>
<text x="1180" y="1248.1" font-size="29.5" fill="#2e2e2e">5</text>
<text x="1180" y="1149.6" font-size="29.5" fill="#2e2e2e">10</text>
<text x="1180" y="1051.2" font-size="29.5" fill="#2e2e2e">15</text>
<text x="1180" y="952.8" font-size="29.5" fill="#2e2e2e">20</text>
<text x="1180" y="854.3" font-size="29.5" fill="#2e2e2e">25</text>
<text x="1180" y="755.9" font-size="29.5" fill="#2e2e2e">30</text>
<text x="1180" y="657.4" font-size="29.5" fill="#2e2e2e">35</text>
<text x="1180" y="559.0" font-size="29.5" fill="#2e2e2e">40</text>
<text transform="translate(1249,940) rotate(90)" text-anchor="middle" font-size="29.5" fill="#2e2e2e">U-Pb Age (Ma)</text>
</svg></body></html>
